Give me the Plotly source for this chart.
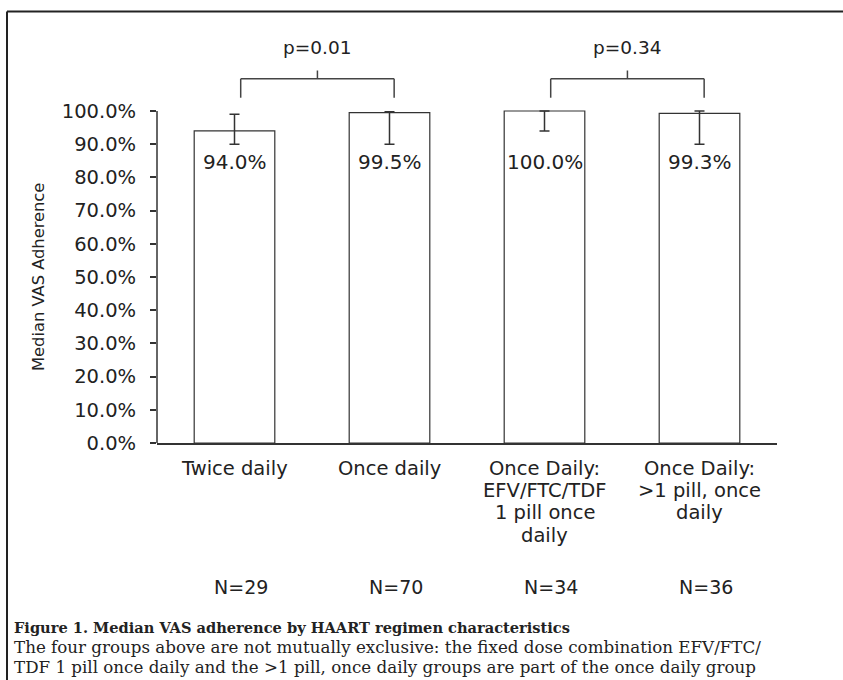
import plotly.graph_objects as go

# ---- data ----
categories = ["Twice daily", "Once daily", "Once Daily:\nEFV/FTC/TDF\n1 pill once\ndaily", "Once Daily:\n>1 pill, once\ndaily"]
median_adherence = [94.0, 99.5, 100.0, 99.3]
err_upper = [99.0, 99.8, 100.0, 100.0]
err_lower = [90.0, 90.0, 94.0, 90.0]
n_labels = ["N=29", "N=70", "N=34", "N=36"]
comparisons = [(0, 1, "p=0.01"), (2, 3, "p=0.34")]
ytick_vals = [0, 10, 20, 30, 40, 50, 60, 70, 80, 90, 100]
ytick_text = [f"{v:.1f}%" for v in ytick_vals]
caption_title = "Figure 1. Median VAS adherence by HAART regimen characteristics"
caption_lines = [
    "The four groups above are not mutually exclusive: the fixed dose combination EFV/FTC/",
    "TDF 1 pill once daily and the >1 pill, once daily groups are part of the once daily group",
]

SANS = "DejaVu Sans"
SERIF = "DejaVu Serif"
INK = "#222222"

L, R, T, B = 157, 66, 27.5, 236.7
W, H = 843 - L - R, 680 - T - B


def px_to_paper(px, py):
    return (px - L) / W, 1 - (py - T) / H


x = list(range(len(categories)))
fig = go.Figure()
fig.add_trace(go.Bar(
    x=x, y=median_adherence, width=0.52,
    marker=dict(color="white", line=dict(color="#333333", width=1.2)),
    error_y=dict(type="data", symmetric=False,
                 array=[u - m for u, m in zip(err_upper, median_adherence)],
                 arrayminus=[m - l for m, l in zip(median_adherence, err_lower)],
                 color="#333333", thickness=1.5, width=5),
    showlegend=False, hoverinfo="skip",
))

ann = []
# bar value labels
for i, v in enumerate(median_adherence):
    ann.append(dict(x=i, y=84.6, xref="x", yref="y", text=f"{v:.1f}%", showarrow=False,
                    font=dict(family=SANS, size=20, color=INK)))
# category labels, one line at a time
for i, lab in enumerate(categories):
    for k, line in enumerate(lab.split("\n")):
        ann.append(dict(x=i, y=0, xref="x", yref="y", text=line, showarrow=False,
                        yanchor="middle", yshift=-(25 + 22.4 * k),
                        font=dict(family=SANS, size=19.5, color=INK)))
# N labels
for i, t in enumerate(n_labels):
    ann.append(dict(x=i, y=0, xref="x", yref="y", text=t, showarrow=False,
                    yanchor="middle", yshift=-143.5, xshift=6,
                    font=dict(family=SANS, size=19, color=INK)))
# comparison brackets
shapes = []
for a, b, p in comparisons:
    xl, xr = a + 0.04, b + 0.03
    xm = (xl + xr) / 2
    shapes += [
        dict(type="line", xref="x", yref="y", x0=xl, x1=xl, y0=104.0, y1=109.7, line=dict(color="#444", width=1.5)),
        dict(type="line", xref="x", yref="y", x0=xr, x1=xr, y0=104.0, y1=109.7, line=dict(color="#444", width=1.5)),
        dict(type="line", xref="x", yref="y", x0=xl, x1=xr, y0=109.7, y1=109.7, line=dict(color="#444", width=1.5)),
        dict(type="line", xref="x", yref="y", x0=xm, x1=xm, y0=109.7, y1=112.2, line=dict(color="#444", width=1.5)),
    ]
    ann.append(dict(x=xm, y=119.2, xref="x", yref="y", text=p, showarrow=False,
                    yanchor="middle", font=dict(family=SANS, size=18.5, color=INK)))
# y axis line (only 0-100)
shapes.append(dict(type="line", xref="paper", yref="y", x0=0, x1=0, y0=0, y1=100,
                   line=dict(color="#333333", width=1.5)))
# outer frame
fx, fy = px_to_paper(7, 11)
shapes.append(dict(type="line", xref="paper", yref="paper", x0=fx, x1=1.2, y0=fy, y1=fy,
                   line=dict(color="#222", width=2)))
shapes.append(dict(type="line", xref="paper", yref="paper", x0=fx, x1=fx, y0=fy, y1=-0.7,
                   line=dict(color="#222", width=2)))
# y axis title
tx, _ = px_to_paper(38, 0)
ann.append(dict(x=tx, y=50, xref="paper", yref="y", text="Median VAS Adherence", textangle=-90,
                xanchor="center", yanchor="middle",
                showarrow=False, font=dict(family=SANS, size=16.3, color=INK)))
# caption
cx, cy = px_to_paper(12, 628.3)
ann.append(dict(x=cx, y=cy, xref="paper", yref="paper", text=f"<b>{caption_title}</b>", showarrow=False,
                xanchor="left", yanchor="middle", font=dict(family=SERIF, size=14.6, color=INK)))
for k, line in enumerate(caption_lines):
    cx, cy = px_to_paper(12, 647.8 + 19.5 * k)
    ann.append(dict(x=cx, y=cy, xref="paper", yref="paper", text=line, showarrow=False,
                    xanchor="left", yanchor="middle", font=dict(family=SERIF, size=16.7, color=INK)))

fig.update_layout(
    width=843, height=680,
    margin=dict(l=L, r=R, t=T, b=B, autoexpand=False),
    paper_bgcolor="white", plot_bgcolor="white",
    xaxis=dict(range=[-0.5, 3.5], showticklabels=False, showline=True, linecolor="#333333",
               linewidth=1.5, ticks="", showgrid=False, zeroline=False, fixedrange=True),
    yaxis=dict(range=[0, 125], tickvals=ytick_vals, ticktext=ytick_text, ticks="outside",
               ticklen=6, tickwidth=1.5, tickcolor="#333333", showline=False, showgrid=False,
               zeroline=False, ticklabelstandoff=10, fixedrange=True,
               tickfont=dict(family=SANS, size=19.5, color=INK)),
    shapes=shapes, annotations=ann,
    bargap=0.48,
)
fig.write_html("out.html", config={"displayModeBar": False},
               post_script="document.body.style.margin='0';")
